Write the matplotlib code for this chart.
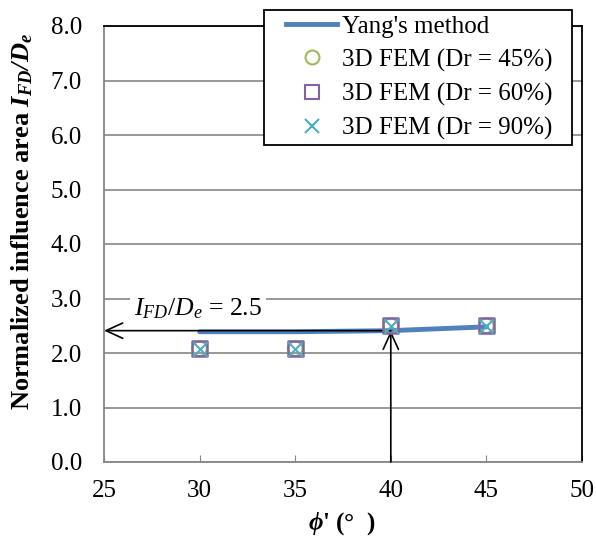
import matplotlib
matplotlib.use("Agg")
import matplotlib.pyplot as plt
from matplotlib.lines import Line2D
from matplotlib.patches import Rectangle

plt.rcParams['font.family'] = ['Liberation Serif', 'DejaVu Serif']
plt.rcParams['mathtext.fontset'] = 'custom'
plt.rcParams['mathtext.rm'] = 'Liberation Serif'
plt.rcParams['mathtext.it'] = 'Liberation Serif:italic'
plt.rcParams['mathtext.bf'] = 'Liberation Serif:bold'
plt.rcParams['mathtext.bfit'] = 'Liberation Serif:bold:italic'

# Friction angle (deg) and normalized influence area
phi = [30, 35, 40, 45]
yang = [2.39, 2.39, 2.41, 2.48]
fem_dr45 = [2.08, 2.08, 2.50, 2.50]
fem_dr60 = [2.08, 2.08, 2.50, 2.50]
fem_dr90 = [2.08, 2.08, 2.50, 2.50]

phi_pick = 40
ifd_pick = 2.41
label_value = 2.5

x_ticks = [25, 30, 35, 40, 45, 50]
y_ticks = [0, 1, 2, 3, 4, 5, 6, 7, 8]

W, H = 596, 549
fig = plt.figure(figsize=(W / 100, H / 100), dpi=100)
ax = fig.add_axes([104 / W, 1 - 462 / H, 478 / W, 436 / H])

grey = '#868686'
ax.set_xlim(25, 50)
ax.set_ylim(0, 8)
ax.set_xticks(x_ticks)
ax.set_yticks(y_ticks)
ax.set_yticklabels([f'{v:.1f}' for v in y_ticks])
ax.tick_params(axis='x', direction='in', length=5, color=grey, labelsize=18, pad=13)
ax.tick_params(axis='y', length=0, labelsize=18, pad=16)
ax.yaxis.grid(True, color=grey, linewidth=1.2)
ax.set_axisbelow(True)
for s in ['left', 'bottom']:
    ax.spines[s].set_color(grey)
    ax.spines[s].set_linewidth(1.3)
for s in ['top', 'right']:
    ax.spines[s].set_color('black')
    ax.spines[s].set_linewidth(1.3)

ax.plot(phi, yang, color='#4F81BD', linewidth=3.5, solid_capstyle='round', zorder=3)

# guide arrows
arrow = dict(arrowstyle='->,head_length=1.2,head_width=0.55', color='black',
             linewidth=1.2, shrinkA=0, shrinkB=0)
ax.annotate('', xy=(25, ifd_pick), xytext=(phi_pick, ifd_pick), arrowprops=arrow, zorder=4)
ax.annotate('', xy=(phi_pick, ifd_pick), xytext=(phi_pick, 0), arrowprops=arrow, zorder=4)

ax.scatter(phi, fem_dr45, marker='o', s=110, facecolors='none', edgecolors='#9BBB59', linewidths=1.5, zorder=5)
ax.scatter(phi, fem_dr60, marker='s', s=120, facecolors='none', edgecolors='#8064A2', linewidths=1.8, zorder=6)
ax.scatter(phi, fem_dr90, marker='x', s=110, color='#4BACC6', linewidths=1.5, zorder=7)

ax.text(29.9, 2.82, rf'$I_{{FD}}/D_e$ = {label_value}', fontsize=18.5, ha='center', va='center',
        bbox=dict(facecolor='white', edgecolor='none', pad=3), zorder=8)

fig.text(22 / W, 1 - 221 / H, r'Normalized influence area $\mathbfit{I_{FD}/D_e}$',
         fontsize=19, fontweight='bold', rotation=90, ha='center', va='center')
fig.text(342 / W, 1 - 524 / H, r"$\mathbfit{\phi}$" + "' (°  )", fontsize=18,
         fontweight='bold', ha='center', va='center')

# legend box
fig.patches.append(Rectangle((264 / W, 1 - 145 / H), 308 / W, 135 / H,
                             transform=fig.transFigure, facecolor='white',
                             edgecolor='black', linewidth=1.3, zorder=10))

handles = [
    Line2D([], [], color='#4F81BD', linewidth=3.5),
    Line2D([], [], marker='o', linestyle='none', markersize=10, markerfacecolor='none',
           markeredgecolor='#9BBB59', markeredgewidth=1.5),
    Line2D([], [], marker='s', linestyle='none', markersize=10, markerfacecolor='none',
           markeredgecolor='#8064A2', markeredgewidth=1.5),
    Line2D([], [], marker='x', linestyle='none', markersize=10, color='#4BACC6',
           markeredgewidth=1.5),
]
labels = ["Yang's method", '3D FEM (Dr = 45%)', '3D FEM (Dr = 60%)', '3D FEM (Dr = 90%)']
leg = fig.legend(handles, labels, loc='upper left', bbox_to_anchor=(286 / W, 1 - 15 / H),
                 bbox_transform=fig.transFigure, borderaxespad=0, fontsize=18,
                 frameon=False, handlelength=2.04, handletextpad=0.2,
                 labelspacing=0.44, borderpad=0)
leg.set_zorder(11)

fig.savefig('out.png', dpi=100)
